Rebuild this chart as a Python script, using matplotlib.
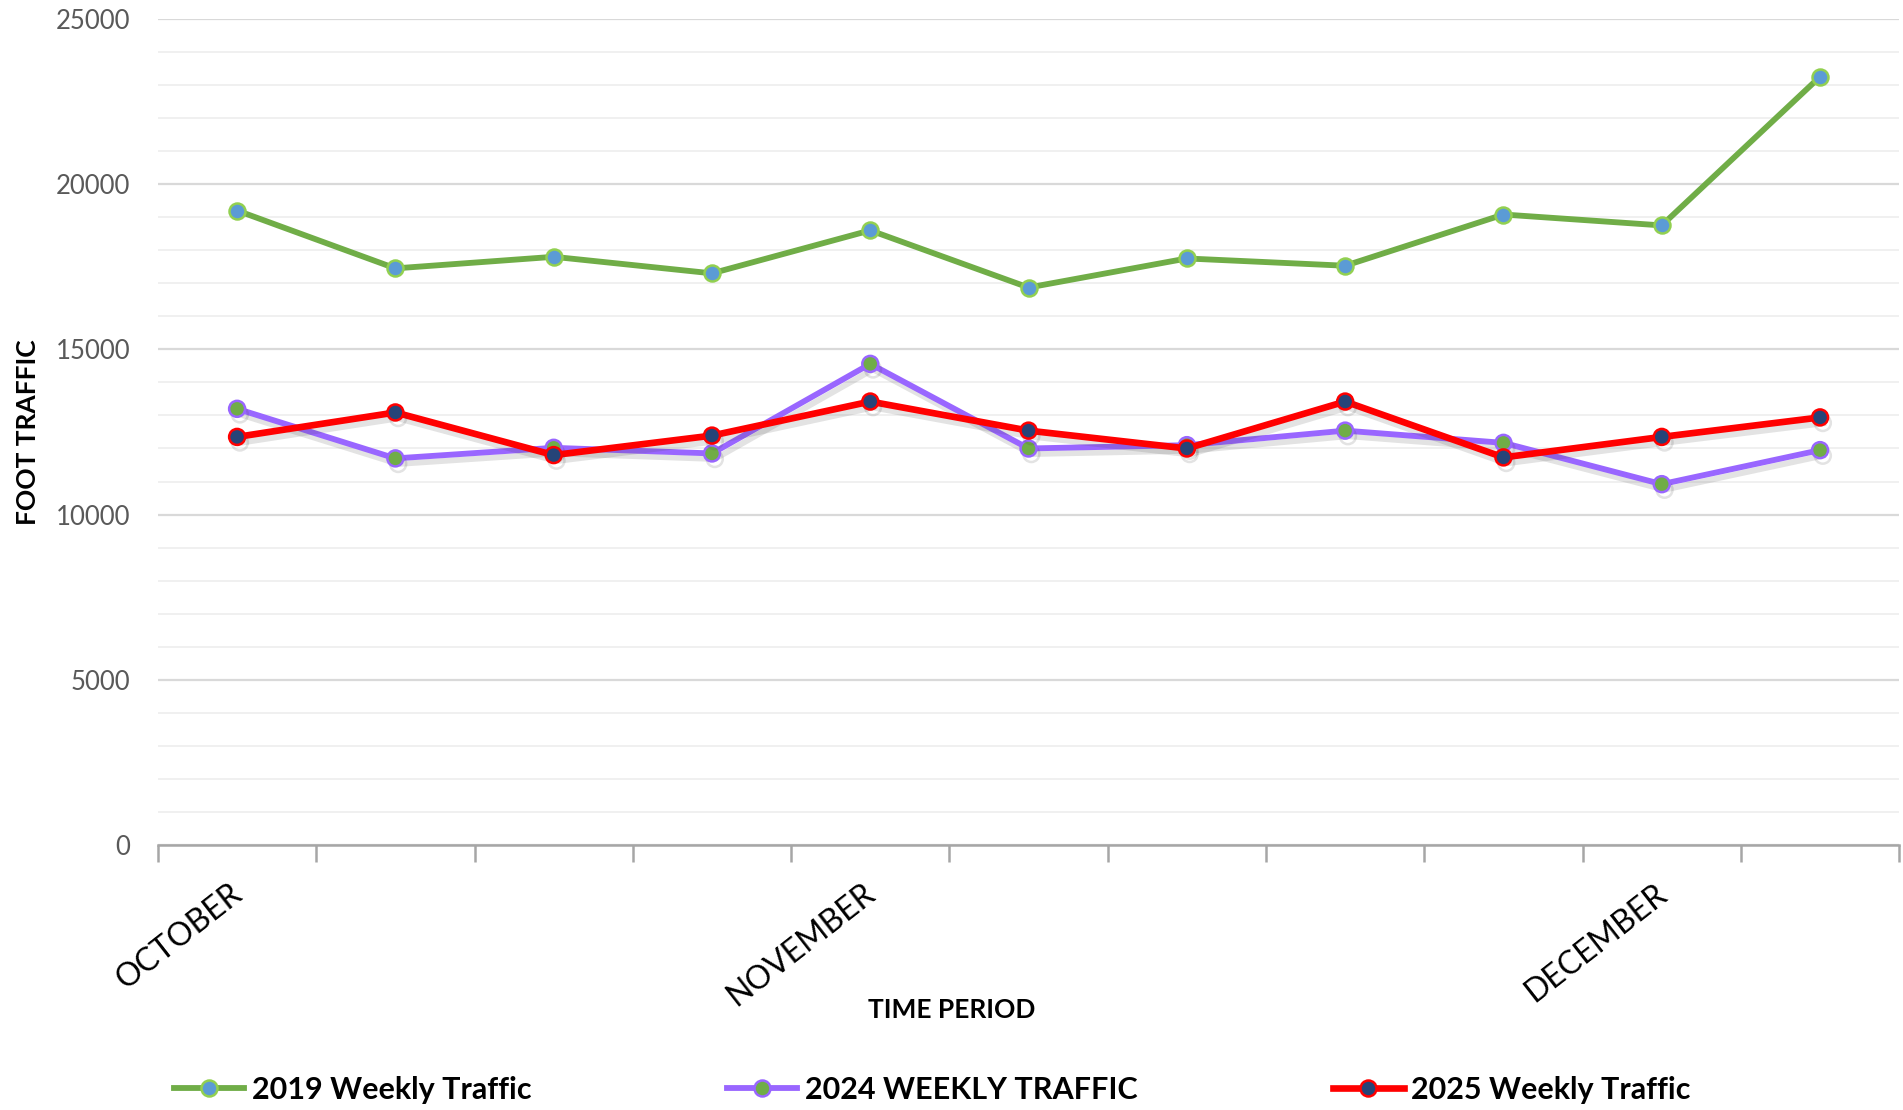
import matplotlib.pyplot as plt
import matplotlib.patheffects as pe
import matplotlib.transforms as mtransforms
from matplotlib.ticker import MultipleLocator

# ── Data ──────────────────────────────────────────────────────────────────────
weeks = list(range(11))
week_labels = ["OCTOBER", "", "", "", "NOVEMBER", "", "", "", "", "DECEMBER", ""]
traffic_2019 = [19200, 17450, 17800, 17300, 18600, 16870, 17750, 17530, 19080, 18750, 23250]
traffic_2024 = [13200, 11700, 12020, 11850, 14560, 12000, 12100, 12540, 12170, 10920, 11950]
traffic_2025 = [12350, 13090, 11800, 12390, 13420, 12540, 12000, 13420, 11730, 12350, 12940]

plt.rcParams["font.family"] = ["Lato", "DejaVu Sans"]

fig = plt.figure(figsize=(19.03, 11.10), dpi=100)
ax = fig.add_axes([0.083, 0.2387, 0.915, 0.7443])

shadow = [pe.SimpleLineShadow(offset=(2, -4), alpha=0.15, shadow_color="#444444"), pe.Normal()]

ax.plot(weeks, traffic_2019, color="#70AD47", lw=4.2, marker="o", ms=11.5,
        mfc="#5B9BD5", mec="#92D050", mew=1.8, label="2019 Weekly Traffic", zorder=3)
ax.plot(weeks, traffic_2024, color="#9966FF", lw=4.2, marker="o", ms=11.5,
        mfc="#70AD47", mec="#9966FF", mew=1.8, label="2024 WEEKLY TRAFFIC",
        path_effects=shadow, zorder=4)
ax.plot(weeks, traffic_2025, color="#FF0000", lw=4.8, marker="o", ms=11.5,
        mfc="#264478", mec="#FF0000", mew=1.8, label="2025 Weekly Traffic",
        path_effects=shadow, zorder=5)

# ── Axes styling ──────────────────────────────────────────────────────────────
ax.set_xlim(-0.5, 10.5)
ax.set_ylim(0, 25000)
ax.yaxis.set_major_locator(MultipleLocator(5000))
ax.yaxis.set_minor_locator(MultipleLocator(1000))
ax.yaxis.grid(True, which="major", color="#D9D9D9", lw=1.6)
ax.yaxis.grid(True, which="minor", color="#F0F0F0", lw=1.4)
ax.set_axisbelow(True)

for side in ["top", "right", "left"]:
    ax.spines[side].set_visible(False)
ax.spines["bottom"].set_color("#A6A6A6")
ax.spines["bottom"].set_linewidth(1.8)

ax.tick_params(axis="y", which="both", length=0, pad=20, labelsize=18.5, labelcolor="#595959")

# category boundaries get the tick marks, labels sit at the points
ax.set_xticks([w - 0.5 for w in weeks] + [10.5])
ax.set_xticklabels([])
ax.tick_params(axis="x", which="major", length=12, width=1.8, color="#A6A6A6")
ax.set_xticks(weeks, minor=True)
ax.set_xticklabels(week_labels, minor=True, rotation=38, ha="right",
                   rotation_mode="anchor", fontsize=23, color="black")
ax.tick_params(axis="x", which="minor", length=0, pad=24)
shift = mtransforms.ScaledTranslation(-8 / 100, 0, fig.dpi_scale_trans)
for lbl in ax.get_xticklabels(minor=True):
    lbl.set_transform(lbl.get_transform() + shift)

ax.set_ylabel("FOOT TRAFFIC", fontsize=19, fontweight="bold", color="black")
ax.yaxis.set_label_coords(-0.068, 0.5)
ax.set_xlabel("TIME PERIOD", fontsize=19, fontweight="bold", color="black")
ax.xaxis.set_label_coords(0.456, -0.185)

leg = fig.legend(loc="lower left", bbox_to_anchor=(0.077, -0.019), ncol=3, frameon=False,
                 handlelength=2.3, handletextpad=0.25, columnspacing=6.4,
                 prop={"weight": "bold", "size": 22})
for h in leg.legend_handles:
    h.set_path_effects([])

fig.savefig("out.png", dpi=100, facecolor="white")
